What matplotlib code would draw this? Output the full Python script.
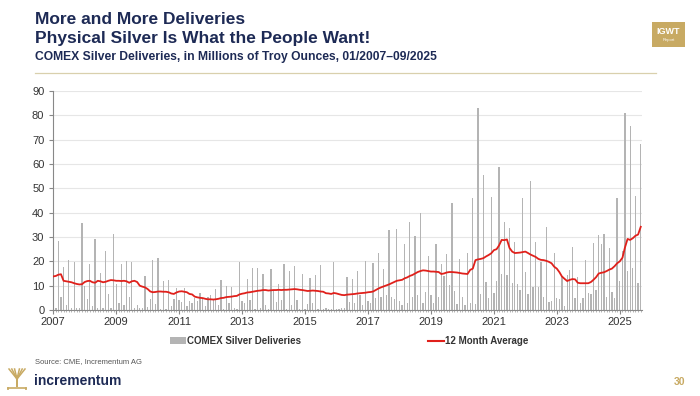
import matplotlib
matplotlib.use("Agg")
import matplotlib.pyplot as plt
import matplotlib.dates as mdates
from matplotlib.patches import Rectangle, Patch
from matplotlib.lines import Line2D
import numpy as np
import pandas as pd

# COMEX silver deliveries, million oz, one row per year (Jan..Dec)
deliveries = [
    0.5, 1.0, 28.5, 5.3, 17.8, 2.0, 20.5, 1.0, 19.6, 1.0, 1.0, 35.9,     # 2007
    9.9, 4.5, 19.0, 1.6, 29.0, 1.0, 15.2, 1.0, 24.2, 6.6, 1.0, 31.4,     # 2008
    10.5, 2.7, 19.0, 2.0, 20.0, 5.2, 19.9, 1.0, 2.0, 1.0, 1.0, 13.8,     # 2009
    1.4, 4.7, 20.5, 2.3, 21.2, 0.5, 12.0, 0.5, 12.5, 1.5, 4.5, 9.0,      # 2010
    4.1, 3.3, 8.9, 1.6, 3.7, 2.7, 4.8, 3.8, 7.1, 4.8, 1.8, 5.5,          # 2011
    6.3, 4.4, 8.5, 2.0, 12.3, 0.5, 10.0, 2.7, 9.6, 1.0, 0.5, 19.7,       # 2012
    3.7, 3.0, 12.6, 4.1, 17.1, 0.5, 17.1, 1.0, 15.0, 2.0, 0.5, 16.7,     # 2013
    8.2, 3.3, 10.8, 4.1, 18.8, 0.5, 15.9, 2.0, 17.9, 4.1, 0.5, 15.0,     # 2014
    0.5, 2.5, 13.0, 3.0, 14.4, 0.5, 18.4, 0.5, 1.0, 0.3, 0.3, 19.7,      # 2015
    0.3, 0.3, 1.0, 1.0, 13.4, 3.2, 12.9, 2.7, 16.2, 6.0, 2.0, 20.0,      # 2016
    3.7, 3.0, 19.5, 4.8, 23.3, 5.2, 16.7, 6.2, 32.9, 5.5, 4.4, 33.4,     # 2017
    3.7, 2.0, 27.1, 2.7, 36.3, 5.3, 30.5, 6.2, 39.7, 2.7, 7.5, 22.2,     # 2018
    6.2, 3.0, 27.3, 5.5, 18.9, 14.0, 22.9, 10.3, 44.1, 7.8, 2.5, 21.0,   # 2019
    5.5, 2.0, 23.3, 3.0, 45.9, 2.5, 82.9, 6.6, 55.5, 11.6, 4.8, 46.6,    # 2020
    6.8, 12.0, 58.9, 15.0, 36.3, 14.4, 33.6, 11.0, 28.1, 10.7, 8.2, 46.2,  # 2021
    15.5, 6.6, 53.0, 9.6, 28.1, 9.3, 19.6, 5.5, 34.2, 3.4, 3.7, 23.6,    # 2022
    5.0, 4.7, 14.0, 1.5, 14.5, 16.3, 25.9, 4.8, 13.6, 2.7, 4.8, 20.4,    # 2023
    6.8, 6.6, 27.4, 8.2, 30.8, 27.1, 31.1, 5.2, 25.3, 7.3, 4.8, 45.9,    # 2024
    11.9, 24.2, 80.8, 16.0, 75.6, 17.1, 46.8, 11.2, 68.2,                # 2025 (to Sep)
]

# 12 month average as drawn in the chart
avg_12m = [
    13.8, 14.0, 14.5, 14.7, 12.0, 11.8, 11.6, 11.4, 11.0, 10.7, 10.5, 10.6,  # 2007
    11.5, 11.9, 12.0, 11.4, 11.2, 12.0, 11.8, 11.4, 11.6, 12.0, 12.3, 12.2,  # 2008
    12.0, 12.0, 11.9, 12.0, 11.8, 11.2, 11.8, 12.0, 11.5, 10.0, 9.6, 9.3,    # 2009
    8.6, 7.6, 7.3, 7.4, 7.6, 7.6, 7.5, 7.5, 7.3, 6.8, 6.6, 7.2,              # 2010
    7.6, 7.7, 7.5, 7.3, 6.6, 6.4, 5.5, 5.2, 5.0, 4.9, 4.6, 4.4,              # 2011
    4.4, 4.3, 4.4, 4.6, 4.9, 5.0, 5.3, 5.4, 5.5, 5.7, 5.8, 6.4,              # 2012
    6.7, 6.9, 7.2, 7.3, 7.5, 7.7, 7.9, 8.0, 8.2, 8.2, 8.0, 8.1,              # 2013
    8.2, 8.2, 8.3, 8.2, 8.3, 8.3, 8.4, 8.5, 8.6, 8.5, 8.3, 8.2,              # 2014
    8.0, 7.8, 7.9, 8.0, 7.9, 7.8, 7.6, 7.5, 6.9, 6.8, 6.6, 7.0,              # 2015
    6.8, 6.5, 6.2, 6.1, 6.3, 6.4, 6.5, 6.6, 6.8, 6.9, 7.0, 7.1,              # 2016
    7.3, 7.4, 7.6, 8.2, 8.8, 9.3, 9.7, 10.1, 10.5, 11.0, 11.5, 12.0,         # 2017
    12.2, 12.4, 13.0, 13.4, 14.0, 14.4, 15.0, 15.6, 16.0, 16.3, 16.2, 16.0,  # 2018
    15.8, 15.8, 15.7, 15.6, 14.8, 15.0, 15.4, 15.6, 15.6, 15.5, 15.4, 15.2,  # 2019
    15.0, 14.9, 14.8, 16.5, 17.0, 20.5, 20.8, 21.0, 21.3, 22.0, 22.6, 23.3,  # 2020
    24.6, 25.0, 26.5, 28.8, 28.7, 29.0, 25.5, 24.0, 23.4, 23.5, 23.6, 23.8,  # 2021
    24.0, 23.4, 22.8, 22.3, 21.8, 21.0, 20.6, 20.5, 20.2, 19.8, 19.2, 17.8,  # 2022
    17.0, 15.5, 13.8, 12.8, 11.9, 12.4, 12.7, 12.6, 11.2, 11.0, 11.0, 11.0,  # 2023
    11.0, 11.5, 12.4, 13.5, 15.0, 15.3, 15.5, 16.0, 16.6, 17.0, 18.0, 19.2,  # 2024
    20.0, 21.5, 25.6, 29.2, 28.8, 29.5, 30.5, 31.0, 34.2,                    # 2025
]

tick_years = [2007, 2009, 2011, 2013, 2015, 2017, 2019, 2021, 2023, 2025]
y_ticks = [0, 10, 20, 30, 40, 50, 60, 70, 80, 90]

months = pd.date_range("2007-01-01", periods=len(deliveries), freq="MS")

NAVY = "#1d2a55"
GOLD = "#c8aa63"
BAR_GREY = "#b4b4b4"
RED = "#e0201b"
TXT = "#333333"

plt.rcParams["font.family"] = ["Liberation Sans", "DejaVu Sans"]

fig = plt.figure(figsize=(7.0, 3.96), dpi=100)
W, H = 700, 396

def fx(px):
    return px / W

def fy(py):
    return 1 - py / H

# header
fig.text(fx(35), fy(19), "More and More Deliveries", weight="bold",
         fontsize=12.5, color=NAVY, va="center", ha="left")
fig.text(fx(35), fy(38.5), "Physical Silver Is What the People Want!",
         weight="bold", fontsize=12.5, color=NAVY, va="center", ha="left")
fig.text(fx(35), fy(57), "COMEX Silver Deliveries, in Millions of Troy Ounces, 01/2007\u201309/2025",
         weight="bold", fontsize=8.7, color=NAVY, va="center", ha="left")
fig.add_artist(Line2D([fx(35), fx(656)], [fy(73), fy(73)], color="#d9d0ad", lw=0.9))

# IGWT badge
fig.add_artist(Rectangle((fx(652), fy(47)), fx(33), 25 / H, color=GOLD, lw=0))
fig.text(fx(668.5), fy(32), "IGWT", color="white", weight="bold", fontsize=6.5,
         ha="center", va="center")
fig.text(fx(668.5), fy(40.5), "Report", color="white", fontsize=3, ha="center", va="center")

# chart
ax = fig.add_axes([fx(52.7), fy(310), fx(641.7) - fx(52.7), (310 - 91) / H])
ax.bar(months, deliveries, width=15, color=BAR_GREY, align="center", zorder=2)
ax.plot(months, avg_12m, color=RED, lw=1.3, zorder=3)

ax.set_ylim(0, 90)
ax.set_yticks(y_ticks)
ax.set_xlim(pd.Timestamp("2006-12-26"), pd.Timestamp("2025-09-12"))
ax.set_xticks([pd.Timestamp(f"{y}-01-01") for y in tick_years])
ax.set_xticklabels([str(y) for y in tick_years])
ax.xaxis.set_minor_locator(mdates.MonthLocator())
ax.tick_params(axis="x", which="major", length=3, color="#888888", labelsize=8,
               labelcolor=TXT, pad=2)
ax.tick_params(axis="x", which="minor", length=1.5, color="#aaaaaa", width=0.6)
ax.tick_params(axis="y", length=3, color="#888888", labelsize=8, labelcolor=TXT, pad=3)
ax.grid(axis="y", color="#e6e6e6", lw=0.8, zorder=0)
ax.set_axisbelow(True)
for side in ["top", "right"]:
    ax.spines[side].set_visible(False)
ax.spines["left"].set_color("#888888")
ax.spines["bottom"].set_color("#888888")

# legend, two entries placed separately like the original
leg_kw = dict(loc="center left", frameon=False, prop={"weight": "bold", "size": 7},
              labelcolor=TXT, handlelength=1.6, handleheight=0.6, handletextpad=0.1,
              borderpad=0, borderaxespad=0)
fig.legend([Patch(facecolor=BAR_GREY, edgecolor="none")], ["COMEX Silver Deliveries"],
           bbox_to_anchor=(fx(170), fy(341)), **leg_kw)
fig.legend([Line2D([0], [0], color=RED, lw=1.5)], ["12 Month Average"],
           bbox_to_anchor=(fx(428), fy(341)), **leg_kw)

# footer
fig.text(fx(35), fy(362), "Source: CME, Incrementum AG", fontsize=5.5, color="#555555",
         va="center", ha="left")
fig.text(fx(34), fy(381), "incrementum", fontsize=10, color=NAVY, weight="bold",
         va="center", ha="left")
fig.text(fx(680), fy(382), "30", fontsize=7.5, color=GOLD, weight="bold",
         va="center", ha="center")

# small tree logo
lax = fig.add_axes([fx(7), fy(390), fx(20), 22 / H])
lax.set_xlim(0, 10)
lax.set_ylim(0, 11)
lax.axis("off")
lax.add_patch(Rectangle((4.3, 1.5), 1.4, 5, color=GOLD, lw=0))
for dx in [-4, -2.6, -1.2, 1.2, 2.6, 4]:
    lax.plot([5, 5 + dx], [5.5, 10.5], color=GOLD, lw=1.1)
lax.plot([0.5, 9.5], [1.2, 1.2], color=GOLD, lw=1.2)
lax.plot([0.5, 0.5], [0, 1.2], color=GOLD, lw=1.2)
lax.plot([9.5, 9.5], [0, 1.2], color=GOLD, lw=1.2)

fig.savefig("out.png", dpi=100)
